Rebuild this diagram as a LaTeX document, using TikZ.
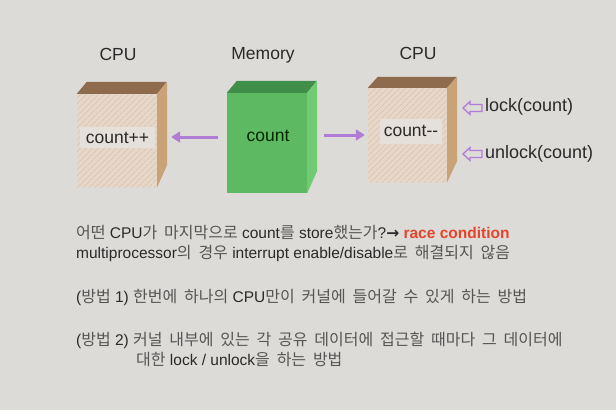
\documentclass[tikz,border=0pt]{standalone}
\usepackage{fontspec}
\setmainfont{Liberation Sans}
\newfontfamily\krfont[WordSpace=1.9]{Noto Sans CJK KR}
\newfontfamily\arrfont{DejaVu Sans}
\usetikzlibrary{patterns.meta,arrows.meta}
\definecolor{bg}{HTML}{DCDBD8}
\definecolor{cpufront}{HTML}{E6D7C9}
\definecolor{hatch}{HTML}{D2BAA4}
\definecolor{bandc}{HTML}{E6E0DA}
\definecolor{cputop}{HTML}{8E6B4C}
\definecolor{cpuside}{HTML}{C9A276}
\definecolor{memfront}{HTML}{5DBA62}
\definecolor{memtop}{HTML}{3F8E4A}
\definecolor{memside}{HTML}{70CB73}
\definecolor{purp}{HTML}{B07CD6}
\definecolor{txt}{HTML}{2A2A2A}
\definecolor{krgray}{HTML}{555555}
\definecolor{racered}{HTML}{E5442B}
\newcommand\KR[1]{{\krfont\fontsize{16}{18}\selectfont\color{krgray}#1}}
\tikzset{
  cpubox/.style={rectangle, inner sep=0pt, fill=cpufront,
    postaction={pattern={Lines[angle=45,distance=4pt,line width=0.6pt]}, pattern color=hatch}},
  membox/.style={rectangle, inner sep=0pt, fill=memfront},
  lbl/.style={font=\fontsize{17.5}{20}\selectfont, text=txt, inner sep=0pt},
  band/.style={fill=bandc, inner sep=0pt, font=\fontsize{17.5}{20}\selectfont, text=txt},
  body/.style={font=\fontsize{15.5}{17}\selectfont, text=txt, anchor=west, inner sep=0pt},
  arr/.style={purp, line width=3pt, -{Triangle[length=9pt,width=11pt]}},
  hollow/.style={draw=purp, line width=1.3pt, fill=bg, line join=miter},
}
\begin{document}
\begin{tikzpicture}[x=1pt,y=-1pt]
\useasboundingbox (0,0) rectangle (616,410);
\fill[bg] (0,0) rectangle (616,410);

% left CPU
\node[cpubox, minimum width=80pt, minimum height=93pt] (cpu1) at (117,140.5) {};
\fill[cputop] (cpu1.north west) -- ++(10,-12) -- ++(80,0) -- (cpu1.north east) -- cycle;
\fill[cpuside] (cpu1.north east) -- ++(10,-12) -- ++(0,83) -- (cpu1.south east) -- cycle;
\node[band, minimum width=75pt, minimum height=21pt] (t1) at (117.5,137.5) {count++};
\node[lbl] (l1) at (118,54) {CPU};

% memory
\node[membox, minimum width=80pt, minimum height=100pt] (mem) at (267,143) {};
\fill[memtop] (mem.north west) -- ++(10,-12) -- ++(80,0) -- (mem.north east) -- cycle;
\fill[memside] (mem.north east) -- ++(10,-12) -- ++(0,90) -- (mem.south east) -- cycle;
\node[lbl, text=black!85!green] (t2) at (268,136) {count};
\node[lbl] (l2) at (263,55) {Memory};

% right CPU
\node[cpubox, minimum width=79pt, minimum height=94pt] (cpu2) at (407.5,135) {};
\fill[cputop] (cpu2.north west) -- ++(10,-11) -- ++(79,0) -- (cpu2.north east) -- cycle;
\fill[cpuside] (cpu2.north east) -- ++(10,-11) -- ++(0,84) -- (cpu2.south east) -- cycle;
\node[band, minimum width=62pt, minimum height=25pt] (t3) at (411,131) {count-{}-};
\node[lbl] (l3) at (418,53) {CPU};

% arrows
\draw[arr] ([xshift=-9pt,yshift=6pt]mem.west) -- ([xshift=14pt,yshift=3.5pt]cpu1.east);
\draw[arr] ([xshift=17pt,yshift=8pt]mem.east) -- ([xshift=-3pt]cpu2.west);

% lock / unlock
\coordinate (lk) at (463,108);
\coordinate (ulk) at (463,154);
\draw[hollow] (lk) -- ++(7,-6.5) -- ++(0,3) -- ++(12,0) -- ++(0,7) -- ++(-12,0) -- ++(0,3) -- cycle;
\draw[hollow] (ulk) -- ++(7,-6.5) -- ++(0,3) -- ++(12,0) -- ++(0,7) -- ++(-12,0) -- ++(0,3) -- cycle;
\node[lbl, anchor=west, font=\fontsize{18}{20}\selectfont] (lt) at (485,107) {lock(count)};
\node[lbl, anchor=west, font=\fontsize{18}{20}\selectfont] (ult) at (485,154) {unlock(count)};

% text lines
\node[body] (s1) at (76,233) {\KR{어떤} CPU\KR{가 마지막으로} count\KR{를} store\KR{했는가}?{\arrfont\bfseries →} \textcolor{racered}{\bfseries race condition}};
\node[body] (s2) at (76,253) {multiprocessor\KR{의 경우} interrupt enable/disable\KR{로 해결되지 않음}};
\node[body] (s3) at (76,297) {(\KR{방법} 1) \KR{한번에 하나의} CPU\KR{만이 커널에 들어갈 수 있게 하는 방법}};
\node[body] (s4) at (76,340) {(\KR{방법} 2) \KR{커널 내부에 있는 각 공유 데이터에 접근할 때마다 그 데이터에}};
\node[body] (s5) at (136,360) {\KR{대한} lock / unlock\KR{을 하는 방법}};
\end{tikzpicture}
\end{document}
